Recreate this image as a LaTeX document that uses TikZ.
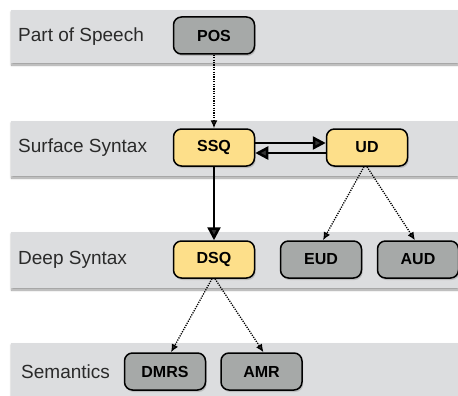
\documentclass[tikz,border=0pt]{standalone}
\usepackage{fontspec}
\setmainfont{Liberation Sans}
\usetikzlibrary{arrows.meta,shadows,shadows.blur}
\definecolor{bandgray}{HTML}{DCDDDF}
\definecolor{boxgray}{HTML}{A6A9A8}
\definecolor{boxyellow}{HTML}{FDDF8A}
\definecolor{labeltext}{HTML}{2A2A2A}
\tikzset{
  band/.style={fill=bandgray, draw=none, blur shadow={shadow xshift=0.5pt, shadow yshift=-2pt, shadow blur steps=6, shadow opacity=40}},
  bandlabel/.style={anchor=west, font=\fontsize{19}{21}\selectfont, text=labeltext, inner sep=0pt},
  repbox/.style={draw=black, line width=1.5pt, rounded corners=8pt, minimum width=81pt, minimum height=37pt,
    font=\fontsize{16}{18}\selectfont\bfseries, inner sep=0pt,
    drop shadow={shadow xshift=1.2pt, shadow yshift=-2pt, opacity=0.35}},
  graybox/.style={repbox, fill=boxgray},
  yellowbox/.style={repbox, fill=boxyellow},
  dotarrow/.style={line width=1.3pt, dash pattern=on 1.2pt off 1.2pt, -{Latex[length=8pt,width=7pt]}},
  thickarrow/.style={line width=2.5pt, -{Triangle[length=13pt,width=13pt]}}
}
\begin{document}
\begin{tikzpicture}[x=1pt,y=-1pt]
\useasboundingbox (0,0) rectangle (458,396);
% bands
\fill[band] (11,10) rectangle (458,63);
\fill[band] (11,121) rectangle (458,176);
\fill[band] (11,232) rectangle (458,288);
\fill[band] (11,343) rectangle (458,400);
% band labels
\node[bandlabel] (lpos) at (18,37) {Part of Speech};
\node[bandlabel] (lss) at (18,148) {Surface Syntax};
\node[bandlabel] (lds) at (18,260) {Deep Syntax};
\node[bandlabel] (lsem) at (21,372) {Semantics};
% nodes
\node[graybox] (pos) at (214,35.5) {POS};
\node[yellowbox] (ssq) at (214,147.5) {SSQ};
\node[yellowbox] (ud) at (367,147.5) {UD};
\node[yellowbox] (dsq) at (214,259.5) {DSQ};
\node[graybox] (eud) at (321,259.5) {EUD};
\node[graybox] (aud) at (418,259.5) {AUD};
\node[graybox] (dmrs) at (165,371.5) {DMRS};
\node[graybox] (amr) at (261.5,371.5) {AMR};
% connectors
\draw[dotarrow] (pos.south) -- (ssq.north);
\draw[thickarrow] ([yshift=4.5pt]ssq.east) -- ([yshift=4.5pt]ud.west);
\draw[thickarrow] ([yshift=-5.5pt]ud.west) -- ([yshift=-5.5pt]ssq.east);
\draw[thickarrow] (ssq.south) -- (dsq.north);
\draw[dotarrow] ([xshift=-3pt]ud.south) -- ([xshift=2pt]eud.north);
\draw[dotarrow] ([xshift=0pt]ud.south) -- ([xshift=-3pt]aud.north);
\draw[dotarrow] ([xshift=-2pt]dsq.south) -- ([xshift=6pt]dmrs.north);
\draw[dotarrow] ([xshift=1pt]dsq.south) -- ([xshift=2pt]amr.north);
\end{tikzpicture}
\end{document}
